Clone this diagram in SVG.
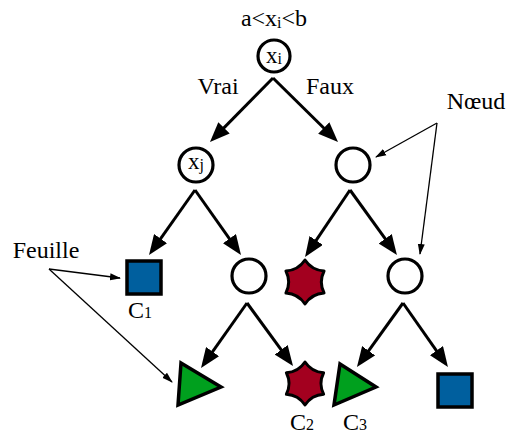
<svg xmlns="http://www.w3.org/2000/svg" width="507" height="434" viewBox="0 0 507 434">
<defs>
<marker id="big" markerUnits="userSpaceOnUse" markerWidth="20" markerHeight="16" viewBox="0 0 20 16" refX="10" refY="8" orient="auto">
<path d="M0,0 L20,8 L0,16 z" fill="#000"/>
</marker>
<marker id="small" markerUnits="userSpaceOnUse" markerWidth="11" markerHeight="8" viewBox="0 0 11 8" refX="10" refY="4" orient="auto">
<path d="M0,0.5 L11,4 L0,7.5 z" fill="#000"/>
</marker>
</defs>
<style>
text{font-family:"Liberation Serif","Times New Roman",serif;fill:#000}
.lbl{font-size:24px}
.in{font-size:23px}
.sub{font-size:16px}
.node{fill:#fff;stroke:#000;stroke-width:3.2}
.sq{fill:#005f9e;stroke:#000;stroke-width:3.5}
.star{fill:#a3001f;stroke:#000;stroke-width:3;stroke-linejoin:round}
.tri{fill:#00a01e;stroke:#000;stroke-width:3.5;stroke-linejoin:miter}
.edge{stroke:#000;stroke-width:3;fill:none}
.thin{stroke:#000;stroke-width:1.3;fill:none}
</style>

<g id="condition">
<text class="lbl" x="274" y="26" text-anchor="middle">a&lt;x<tspan class="sub" dy="2">i</tspan><tspan dy="-2">&lt;b</tspan></text>
</g>
<g id="labels">
<text class="lbl" x="218" y="94" text-anchor="middle">Vrai</text>
<text class="lbl" x="330" y="94" text-anchor="middle">Faux</text>
<text class="lbl" x="476" y="109" text-anchor="middle">Nœud</text>
<text class="lbl" x="46" y="258" text-anchor="middle">Feuille</text>
</g>

<g id="connectors">
<line class="edge" x1="273" y1="78" x2="217" y2="134.9" marker-end="url(#big)"/>
<line class="edge" x1="273" y1="78" x2="330.9" y2="135" marker-end="url(#big)"/>
<line class="edge" x1="195" y1="190" x2="154.8" y2="246.8" marker-end="url(#big)"/>
<line class="edge" x1="195" y1="190" x2="235.2" y2="246.8" marker-end="url(#big)"/>
<line class="edge" x1="350" y1="190" x2="310.6" y2="248.7" marker-end="url(#big)"/>
<line class="edge" x1="350" y1="190" x2="391.1" y2="246.9" marker-end="url(#big)"/>
<line class="edge" x1="247" y1="303" x2="206.8" y2="359.8" marker-end="url(#big)"/>
<line class="edge" x1="247" y1="303" x2="287.1" y2="357.9" marker-end="url(#big)"/>
<line class="edge" x1="403" y1="303" x2="362.8" y2="358.9" marker-end="url(#big)"/>
<line class="edge" x1="403" y1="303" x2="442.2" y2="358.8" marker-end="url(#big)"/>
<line class="thin" x1="49" y1="269" x2="120" y2="278" marker-end="url(#small)"/>
<line class="thin" x1="49" y1="269" x2="172" y2="382" marker-end="url(#small)"/>
<line class="thin" x1="437" y1="123" x2="376" y2="157" marker-end="url(#small)"/>
<line class="thin" x1="437" y1="123" x2="420" y2="254" marker-end="url(#small)"/>
</g>

<g id="root">
<circle class="node" cx="274" cy="56" r="16"/>
<text class="in" x="274" y="63" text-anchor="middle">x<tspan class="sub" dy="1">i</tspan></text>
</g>
<g id="nodeXj">
<circle class="node" cx="196" cy="165" r="17"/>
<text class="in" x="196" y="169" text-anchor="middle">x<tspan class="sub" dy="1">j</tspan></text>
</g>
<g id="nodeR">
<circle class="node" cx="353" cy="165" r="17"/>
</g>
<g id="nodeML">
<circle class="node" cx="249" cy="276" r="17"/>
</g>
<g id="nodeMR">
<circle class="node" cx="405" cy="276" r="17"/>
</g>

<g id="leafC1">
<rect class="sq" x="127" y="261" width="34" height="33"/>
<text class="lbl" x="128" y="318">C<tspan class="sub">1</tspan></text>
</g>
<g id="starMid">
<path class="star" d="M305,260 Q311.8,270.2 324.05,271 Q318.6,282 324.05,293 Q311.8,293.8 305,304 Q298.2,293.8 285.95,293 Q291.4,282 285.95,271 Q298.2,270.2 305,260 z"/>
</g>
<g id="leafTri1">
<polygon class="tri" points="181,363 221,387 178,405"/>
</g>
<g id="leafC2">
<path class="star" d="M305,362 Q311.65,372 323.6,372.75 Q318.3,383.5 323.6,394.25 Q311.65,395 305,405 Q298.35,395 286.4,394.25 Q291.7,383.5 286.4,372.75 Q298.35,372 305,362 z"/>
<text class="lbl" x="290" y="430">C<tspan class="sub">2</tspan></text>
</g>
<g id="leafC3">
<polygon class="tri" points="340,364 376,387 334,405"/>
<text class="lbl" x="343" y="430">C<tspan class="sub">3</tspan></text>
</g>
<g id="leafSq2">
<rect class="sq" x="438" y="374" width="34" height="33"/>
</g>
</svg>
